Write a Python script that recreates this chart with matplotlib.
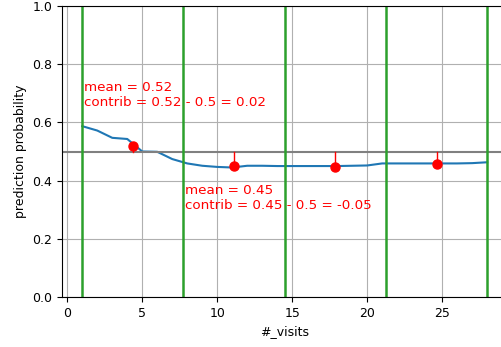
from matplotlib import pyplot as plt
import numpy as np

# partial dependence curve over #_visits
visits = [1, 2, 3, 4, 5, 6, 7, 8, 9, 10, 11, 12, 13, 14, 15, 16, 17, 18, 19, 20,
          21, 22, 23, 24, 25, 26, 27, 28]
pred = [0.587, 0.572, 0.547, 0.543, 0.500, 0.499, 0.474, 0.459, 0.451, 0.447,
        0.445, 0.451, 0.451, 0.450, 0.450, 0.450, 0.450, 0.450, 0.451, 0.452,
        0.459, 0.459, 0.459, 0.459, 0.459, 0.459, 0.460, 0.463]

bin_edges = [1, 7.75, 14.5, 21.25, 28]
bin_means = [0.52, 0.45, 0.447, 0.458]
baseline = 0.5
annotated = [0, 1]

fig = plt.figure(figsize=(5.01, 3.47), dpi=100)
ax = fig.add_axes([0.1238, 0.1441, 0.889, 0.8386])

ax.plot(visits, pred)
ax.axhline(baseline, color="gray", lw=1.5)
for e in bin_edges:
    ax.axvline(e, color="tab:green", lw=1.8)

centers = [(bin_edges[i] + bin_edges[i + 1]) / 2 for i in range(len(bin_means))]
for i, (c, m) in enumerate(zip(centers, bin_means)):
    ax.plot([c, c], [baseline, m], color="red", lw=1)
    ax.plot(c, m, "o", color="red", ms=6.5)

text_y = [0.694, 0.340]
for k, i in enumerate(annotated):
    m = bin_means[i]
    ax.text(bin_edges[i] + 0.1, text_y[k],
            "mean = %.2f\ncontrib = %.2f - %.1f = %.2f" % (m, m, baseline, m - baseline),
            color="red", fontsize=9.7, va="center", ha="left")

ax.set_xlim(-0.35, 29.35)
ax.set_ylim(0, 1)
ax.set_xticks([0, 5, 10, 15, 20, 25])
ax.tick_params(labelsize=9)
ax.grid(True)
ax.set_xlabel("#_visits", fontsize=9)
ax.set_ylabel("prediction probability", fontsize=9)

fig.savefig("out.png", dpi=100)
